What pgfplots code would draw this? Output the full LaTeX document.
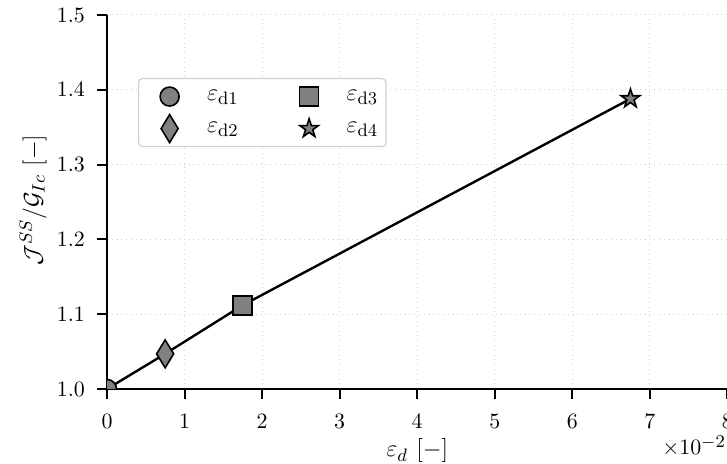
\documentclass[border=0pt]{standalone}
\usepackage{pgfplots}
\pgfplotsset{compat=1.18}

\definecolor{markgray}{HTML}{808080}
\definecolor{gridgray}{HTML}{D0D0D0}
\definecolor{legendedge}{HTML}{D0D0D0}

% filled five-pointed star mark
\pgfdeclareplotmark{fstar}{%
  \pgfpathmoveto{\pgfqpointpolar{90}{\pgfplotmarksize}}%
  \pgfpathlineto{\pgfqpointpolar{126}{0.382\pgfplotmarksize}}%
  \pgfpathlineto{\pgfqpointpolar{162}{\pgfplotmarksize}}%
  \pgfpathlineto{\pgfqpointpolar{198}{0.382\pgfplotmarksize}}%
  \pgfpathlineto{\pgfqpointpolar{234}{\pgfplotmarksize}}%
  \pgfpathlineto{\pgfqpointpolar{270}{0.382\pgfplotmarksize}}%
  \pgfpathlineto{\pgfqpointpolar{306}{\pgfplotmarksize}}%
  \pgfpathlineto{\pgfqpointpolar{342}{0.382\pgfplotmarksize}}%
  \pgfpathlineto{\pgfqpointpolar{18}{\pgfplotmarksize}}%
  \pgfpathlineto{\pgfqpointpolar{54}{0.382\pgfplotmarksize}}%
  \pgfpathclose
  \pgfusepathqfillstroke
}

\newcommand{\tickfont}{\fontsize{10.5}{12.5}\selectfont}
\newcommand{\labelfont}{\fontsize{13}{15}\selectfont}

\begin{document}
\begin{tikzpicture}
\begin{axis}[
  width=310.2pt, height=187pt, scale only axis,
  xmin=0, xmax=8, ymin=1.0, ymax=1.5,
  xtick={0,1,...,8}, ytick={1.0,1.1,...,1.5},
  /pgf/number format/fixed,
  axis x line*=bottom, axis y line*=left,
  axis line style={line width=1.1pt, -},
  tick align=outside, major tick length=5pt,
  tick style={line width=1.0pt, black},
  grid=major,
  major grid style={gridgray, dotted, line width=0.5pt},
  font=\tickfont,
  tick label style={font=\tickfont},
  xticklabel style={yshift=-4pt},
  yticklabel style={xshift=-2.5pt, /pgf/number format/fixed zerofill, /pgf/number format/precision=1},
  label style={font=\labelfont},
  xlabel={$\varepsilon_d\ [-]$},
  ylabel={$\mathcal{J}^{SS}/\mathcal{G}_{Ic}\ [-]$},
  xlabel style={at={(rel axis cs:0.5,0)}, anchor=base, yshift=-34pt},
  ylabel style={at={(rel axis cs:0,0.505)}, anchor=center, yshift=37pt},
  clip marker paths=true,
  legend columns=2,
  transpose legend,
  legend cell align=left,
  legend style={at={(rel axis cs:0.05,0.8316)}, anchor=north west,
    draw=legendedge, line width=0.6pt, rounded corners=2pt, fill=white,
    font=\labelfont,
    /tikz/every even column/.append style={column sep=19.8pt},
    row sep=0pt, inner xsep=2pt, inner ysep=1pt},
  legend image code/.code={%
    \path[draw=none, fill=none] (0pt,-8pt) rectangle (30.2pt,8pt);
    \draw[#1] plot coordinates {(13.5pt,0pt)};},
]
% connecting line through all four states
\addplot[black, line width=1.2pt, no marks, forget plot] coordinates {
  (0.0,1.000) (0.75,1.047) (1.75,1.112) (6.75,1.388)
};
\addplot[only marks, mark=*, mark size=4.75pt,
  mark options={fill=markgray, draw=black, line width=0.8pt}] coordinates {(0.0,1.000)};
\addlegendentry{$\varepsilon_{\mathrm{d1}}$}
\addplot[only marks, mark=diamond*, mark size=7pt,
  mark options={fill=markgray, draw=black, line width=0.8pt, xscale=0.81}] coordinates {(0.75,1.047)};
\addlegendentry{$\varepsilon_{\mathrm{d2}}$}
\addplot[only marks, mark=square*, mark size=4.75pt,
  mark options={fill=markgray, draw=black, line width=0.8pt}] coordinates {(1.75,1.112)};
\addlegendentry{$\varepsilon_{\mathrm{d3}}$}
\addplot[only marks, mark=fstar, mark size=4.9pt,
  mark options={fill=markgray, draw=black, line width=0.8pt}] coordinates {(6.75,1.388)};
\addlegendentry{$\varepsilon_{\mathrm{d4}}$}

\coordinate (bl) at (rel axis cs:0,0);
\coordinate (br) at (rel axis cs:1,0);
\end{axis}
\node[anchor=base west, font=\fontsize{11}{13}\selectfont, inner sep=0pt] at ([xshift=-32.75pt, yshift=-33pt]br)
  {$\times10^{\mbox{\fontsize{9.5}{11}\selectfont$-2$}}$};
\pgfresetboundingbox
\path[use as bounding box] ([shift={(-53.5pt,-37.5pt)}]bl) rectangle ([shift={(310.0pt,194.5pt)}]bl);
\end{tikzpicture}
\end{document}
